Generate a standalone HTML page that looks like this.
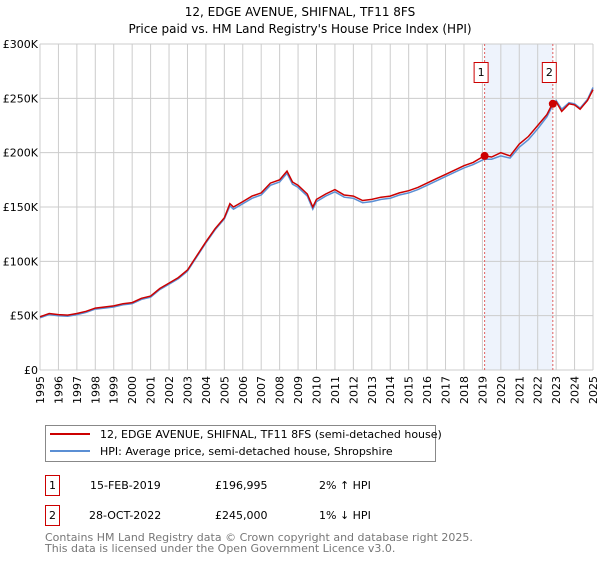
<!DOCTYPE html>
<html><head><meta charset="utf-8"><style>
body{margin:0;background:#fff;font-family:"Liberation Sans","DejaVu Sans",sans-serif;}
svg text{font-family:"DejaVu Sans","Liberation Sans",sans-serif;}
</style></head><body>
<svg id="chart" width="600" height="560" xmlns="http://www.w3.org/2000/svg">
<text x="300" y="16" text-anchor="middle" font-size="12">12, EDGE AVENUE, SHIFNAL, TF11 8FS</text>
<text x="300" y="33" text-anchor="middle" font-size="12">Price paid vs. HM Land Registry's House Price Index (HPI)</text>
<g id="grid"></g><g id="series"></g><g id="axes"></g>
<rect x="45.5" y="425.5" width="390" height="36" fill="#fff" stroke="#888"/>
<line x1="50" y1="434" x2="90" y2="434" stroke="#cc0000" stroke-width="2"/>
<text x="100" y="438" font-size="11">12, EDGE AVENUE, SHIFNAL, TF11 8FS (semi-detached house)</text>
<line x1="50" y1="451" x2="90" y2="451" stroke="#5b8fd4" stroke-width="2"/>
<text x="100" y="455" font-size="11">HPI: Average price, semi-detached house, Shropshire</text>
<g font-size="11">
<rect x="45.5" y="475.5" width="14" height="20" fill="#fff" stroke="#cc0000"/><text x="52.5" y="489" text-anchor="middle">1</text>
<text x="90" y="489">15-FEB-2019</text><text x="215" y="489">£196,995</text><text x="319" y="489">2% ↑ HPI</text></g>
<g font-size="11">
<rect x="45.5" y="505.5" width="14" height="20" fill="#fff" stroke="#cc0000"/><text x="52.5" y="519" text-anchor="middle">2</text>
<text x="89" y="519">28-OCT-2022</text><text x="215" y="519">£245,000</text><text x="319" y="519">1% ↓ HPI</text></g>
<text x="45" y="541" font-size="11" fill="#777">Contains HM Land Registry data © Crown copyright and database right 2025.</text>
<text x="45" y="552" font-size="11" fill="#777">This data is licensed under the Open Government Licence v3.0.</text>
</svg>
<script>
const years=[1995,1995.5,1996,1996.5,1997,1997.5,1998,1998.5,1999,1999.5,2000,2000.5,2001,2001.5,2002,2002.5,2003,2003.5,2004,2004.5,2005,2005.3,2005.5,2006,2006.5,2007,2007.5,2008,2008.4,2008.7,2009,2009.5,2009.8,2010,2010.5,2011,2011.5,2012,2012.5,2013,2013.5,2014,2014.5,2015,2015.5,2016,2016.5,2017,2017.5,2018,2018.5,2019.1,2019.5,2020,2020.5,2021,2021.5,2022,2022.5,2022.8,2023,2023.3,2023.7,2024,2024.3,2024.7,2025];
const priceSeries=[49,52,51,50.5,52,54,57,58,59,61,62,66,68,75,80,85,92,105,118,130,140,153,150,155,160,163,172,175,183,173,170,162,150,157,162,166,161,160,156,157,159,160,163,165,168,172,176,180,184,188,191,197,196,200,197,208,215,225,235,245,247,238,245,244,240,248,258];
const hpiSeries=[48,51,50,49.5,51,53,56,57,58,60,61,65,67,74,79,84,91,104,117,129,139,151,148,153,158,161,170,173,181,171,168,160,148,155,160,164,159,158,154,155,157,158,161,163,166,170,174,178,182,186,189,194,194,197,195,205,212,222,233,243,248,240,246,245,241,249,260];
const yTicks=[0,50,100,150,200,250,300];
const yTickLabels=["£0","£50K","£100K","£150K","£200K","£250K","£300K"];
const xTicks=[1995,1996,1997,1998,1999,2000,2001,2002,2003,2004,2005,2006,2007,2008,2009,2010,2011,2012,2013,2014,2015,2016,2017,2018,2019,2020,2021,2022,2023,2024,2025];
const saleDates=[2019.12,2022.82];
const saleValues=[196.995,245];
const saleLabels=["1","2"];
const X0=40,X1=593,Y0=370,Y1=44;
const x=v=>X0+(v-1995)/30*(X1-X0);
const y=v=>Y0-v/300*(Y0-Y1);
const NS="http://www.w3.org/2000/svg";
function mk(tag,attrs,parent){const e=document.createElementNS(NS,tag);for(const k in attrs)e.setAttribute(k,attrs[k]);document.getElementById(parent).appendChild(e);return e;}
const band=mk('rect',{x:x(saleDates[0]),y:Y1,width:x(saleDates[1])-x(saleDates[0]),height:Y0-Y1,fill:'#eef3fc'},'grid');


xTicks.forEach(t=>{const l=mk('line',{x1:x(t),x2:x(t),y1:Y1,y2:Y0,stroke:'#ccc'},'grid');


const tx=mk('text',{x:0,y:0,'font-size':11,'text-anchor':'end',transform:`translate(${x(t)+4},${Y0+6}) rotate(-90)`},'axes');tx.textContent=t;

});
yTicks.forEach((t,i)=>{const l=mk('line',{x1:X0,x2:X1,y1:y(t),y2:y(t),stroke:'#ccc'},'grid');


const tx=mk('text',{x:X0-2,y:y(t)+4,'font-size':11,'text-anchor':'end'},'axes');tx.textContent=yTickLabels[i];

});
saleDates.forEach((d,i)=>{const l=mk('line',{x1:x(d),x2:x(d),y1:Y1,y2:Y0,stroke:'#e06060','stroke-dasharray':'2,2'},'grid');

});
const pts=(s)=>years.map((t,i)=>x(t).toFixed(1)+','+y(s[i]).toFixed(1)).join(' ');
const hp=mk('polyline',{points:pts(hpiSeries),fill:'none',stroke:'#5b8fd4','stroke-width':1.5},'series');


const pp=mk('polyline',{points:pts(priceSeries),fill:'none',stroke:'#cc0000','stroke-width':1.5},'series');


saleDates.forEach((d,i)=>{const c=mk('circle',{cx:x(d),cy:y(saleValues[i]),r:4,fill:'#cc0000'},'series');


const r=mk('rect',{x:x(d)-10.5,y:62.5,width:14,height:20,fill:'#fff',stroke:'#cc0000'},'series');


const t=mk('text',{x:x(d)-3.5,y:76,'font-size':11,'text-anchor':'middle'},'series');t.textContent=saleLabels[i];

});
</script>
</body></html>
